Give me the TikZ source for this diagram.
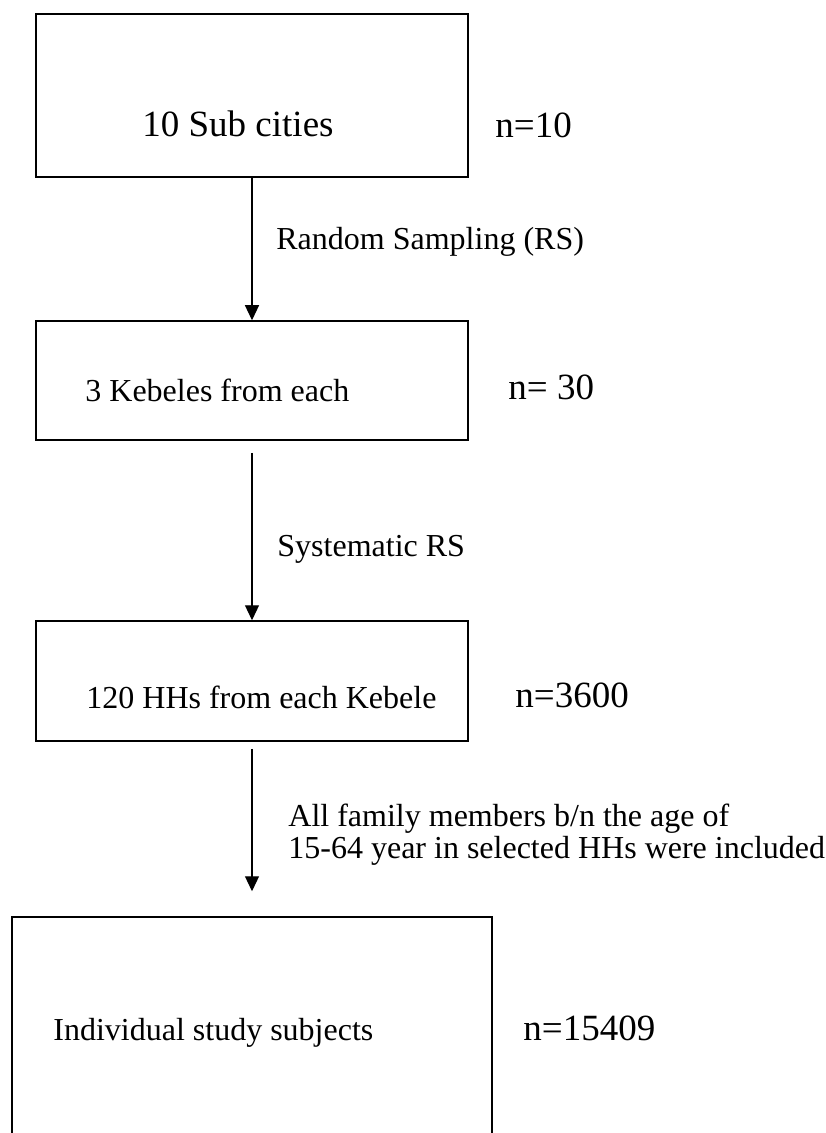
\documentclass[tikz,border=0pt]{standalone}
\usepackage{fontspec}
\setmainfont{Liberation Serif}
\usetikzlibrary{arrows.meta}

\begin{document}
\begin{tikzpicture}[x=0.5pt, y=-0.5pt,
    stagebox/.style={draw, line width=0.75pt, inner sep=0pt},
    boxtext/.style={anchor=base west, inner sep=0pt, font=\fontsize{16}{19}\selectfont},
    bigtext/.style={anchor=base west, inner sep=0pt, font=\fontsize{18.5}{22}\selectfont},
    methodlabel/.style={anchor=base west, inner sep=0pt, align=left, font=\fontsize{16}{13.3}\selectfont},
    flow/.style={-{Triangle[length=7.5pt, width=7pt]}, line width=0.6pt}]
    % Define the page area
    \useasboundingbox (0,0) rectangle (825,1133);

    % Stage boxes (the last one runs off the page)
    \node[stagebox, minimum width=216pt, minimum height=81.5pt] (subcity) at (252,95.5) {};
    \node[stagebox, minimum width=216pt, minimum height=59.5pt] (kebele) at (252,380.5) {};
    \node[stagebox, minimum width=216pt, minimum height=60pt] (household) at (252,681) {};
    \node[stagebox, minimum width=240pt, minimum height=116.5pt] (subject) at (252,1033.5) {};

    % Texts inside the boxes
    \node[bigtext] (subcitytxt) at (142,137) {10 Sub cities};
    \node[boxtext] (kebeletxt) at (85,401) {3 Kebeles from each};
    \node[boxtext] (householdtxt) at (86,708) {120 HHs from each Kebele};
    \node[boxtext] (subjecttxt) at (53,1040) {Individual study subjects};

    % Sample sizes to the right
    \node[bigtext] (nsubcity) at (495,138) {n=10};
    \node[bigtext] (nkebele) at (508,400) {n= 30};
    \node[bigtext] (nhousehold) at (515,707) {n=3600};
    \node[bigtext] (nsubject) at (523,1040) {n=15409};

    % Sampling steps
    \draw[flow] (subcity.south) -- (kebele.north);
    \draw[flow] ([yshift=-6pt]kebele.south) -- (household.north);
    \draw[flow] ([yshift=-3.5pt]household.south) -- ([yshift=12.5pt]subject.north);

    \node[boxtext] (rs) at (276,250) {Random Sampling (RS)};
    \node[boxtext] (srs) at (277,556) {Systematic RS};
    % base of a two-line node sits on its last line
    \node[methodlabel] (allmembers) at (288,858)
        {All family members b/n the age of\\15-64 year in selected HHs were included};
\end{tikzpicture}
\end{document}
